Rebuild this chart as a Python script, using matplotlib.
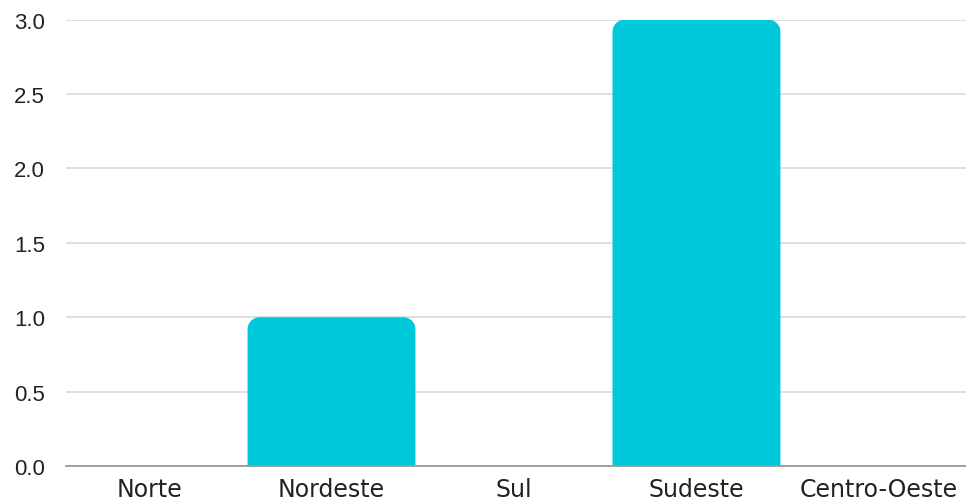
import numpy as np
import matplotlib.pyplot as plt
from matplotlib.path import Path
from matplotlib.patches import PathPatch

regioes = ['Norte', 'Nordeste', 'Sul', 'Sudeste', 'Centro-Oeste']
valores = [0, 1, 0, 3, 0]

cor_barra = '#00C8DB'
largura = 0.92


def barra_arredondada(ax, x, h, w, r_px=12):
    # bar with rounded top corners; radius given in pixels
    if h <= 0:
        return
    fig = ax.figure
    fig.canvas.draw()
    p0 = ax.transData.transform((0, 0))
    p1 = ax.transData.transform((1, 1))
    rx = r_px / (p1[0] - p0[0])
    ry = min(r_px / (p1[1] - p0[1]), h / 2)
    x0, x1 = x - w / 2, x + w / 2
    k = 0.5523
    verts = [
        (x0, 0), (x0, h - ry),
        (x0, h - ry + k * ry), (x0 + rx - k * rx, h), (x0 + rx, h),
        (x1 - rx, h),
        (x1 - rx + k * rx, h), (x1, h - ry + k * ry), (x1, h - ry),
        (x1, 0), (x0, 0),
    ]
    codes = [Path.MOVETO, Path.LINETO,
             Path.CURVE4, Path.CURVE4, Path.CURVE4,
             Path.LINETO,
             Path.CURVE4, Path.CURVE4, Path.CURVE4,
             Path.LINETO, Path.CLOSEPOLY]
    ax.add_patch(PathPatch(Path(verts, codes), facecolor=cor_barra,
                           edgecolor='none', zorder=3))


fig = plt.figure(figsize=(9.66, 5.02), dpi=100)
ax = fig.add_axes([0.0683, 0.0697, 0.9317, 0.889])

x = np.arange(len(regioes))
ax.set_xlim(-0.455, 4.477)
ax.set_ylim(0, 3.0)

for xi, v in zip(x, valores):
    barra_arredondada(ax, xi, v, largura)

ax.set_yticks(np.arange(0, 3.01, 0.5))
ax.set_yticklabels([f'{t:.1f}' for t in np.arange(0, 3.01, 0.5)],
                   fontfamily='Liberation Sans', fontsize=16, color='#222222')
ax.set_xticks(x)
ax.set_xticklabels(regioes, fontfamily='DejaVu Sans', fontsize=17, color='#222222')
ax.tick_params(axis='y', length=0, pad=15)
ax.tick_params(axis='x', length=0, pad=8)

ax.grid(axis='y', color='#d9d9d9', linewidth=1.2, zorder=0)
ax.set_axisbelow(True)
for s in ['top', 'right', 'left']:
    ax.spines[s].set_visible(False)
ax.spines['bottom'].set_color('#999999')
ax.spines['bottom'].set_linewidth(1.3)
ax.spines['bottom'].set_zorder(4)

fig.savefig('out.png', dpi=100)
